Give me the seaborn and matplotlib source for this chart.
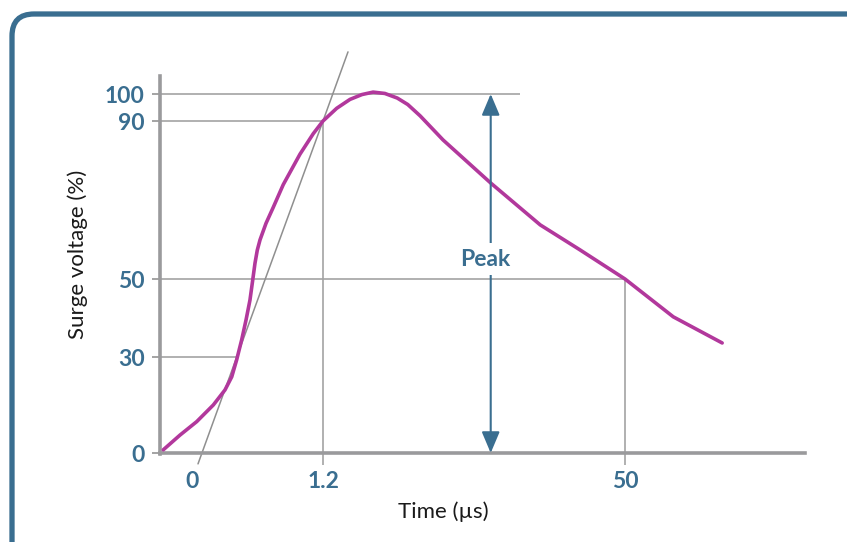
import numpy as np
import pandas as pd
import matplotlib
matplotlib.use("Agg")
import matplotlib.pyplot as plt
import seaborn as sns
from matplotlib.patches import FancyBboxPatch
from matplotlib.transforms import IdentityTransform

# ---------------- data ----------------
time_us = [-0.263, -0.110, 0.043, 0.195, 0.302, 0.364, 0.409, 0.455, 0.495, 0.531,
           0.556, 0.577, 0.598, 0.623, 0.678, 0.742, 0.836, 0.989, 1.111, 1.2,
           3.41, 5.56, 7.5, 9.3, 11.2, 13.2, 14.9, 16.9, 20.6, 28.3, 36.3, 42.7,
           50.0, 57.8, 65.7]
voltage_pct = [1.0, 5.6, 9.8, 15.0, 19.7, 23.8, 29.1, 34.4, 39.5, 44.6,
               49.7, 54.0, 57.3, 59.9, 64.1, 68.0, 73.9, 81.6, 86.8, 90,
               94.7, 98.0, 99.8, 100.7, 100.2, 98.5, 96.1, 91.9, 85.2, 74.3, 63.7, 57.4,
               50, 40.3, 33.6]

front_t = [0.055, 0.41, 1.2, 5.24]        # virtual front line through 30 % and 90 % points
front_v = [-3.4, 30, 90, 115.6]

ref_levels = [30, 50, 90, 100]            # horizontal guide lines
ref_ends = [0.41, 50.0, 1.2, 33.0]
vert_t = [1.2, 50.0]                      # vertical guide lines
vert_top = [90, 50]

peak_t = 28.3
peak_label_t, peak_label_v = 27.4, 55

x_ticks = [0, 1.2, 50]
x_tick_labels = ["0", "1.2", "50"]
y_ticks = [0, 30, 50, 90, 100]
y_tick_labels = ["0", "30", "50", "90", "100"]

# ---------------- style ----------------
sns.set_style("white")
plt.rcParams["font.family"] = ["Lato", "DejaVu Sans"]

BLUE = "#3a6e90"
GRAY = "#a3a3a3"
AXGRAY = "#9a9a9c"
MAGENTA = "#b2389c"

W, H = 847, 542
fig = plt.figure(figsize=(W / 100, H / 100), dpi=100)

# schematic (non-uniform) scales, pixel-based knots
xk_t = [-5, 0, 1.2, 50, 200]
xk_p = [192 - 5 * 109.17, 192, 323, 625, 625 + 150 * 6.189]
yk_v = [-40, 0, 30, 50, 90, 100, 160]
yk_p = [89 - 128, 89, 185, 263, 421, 448, 448 + 162]

fx = lambda v: np.interp(v, xk_t, xk_p)
ix = lambda p: np.interp(p, xk_p, xk_t)
fy = lambda v: np.interp(v, yk_v, yk_p)
iy = lambda p: np.interp(p, yk_p, yk_v)

ax_left, ax_right = 160, 805
ax_bot, ax_top = 60, 500
ax = fig.add_axes([ax_left / W, ax_bot / H, (ax_right - ax_left) / W, (ax_top - ax_bot) / H])
ax.set_xscale("function", functions=(fx, ix))
ax.set_yscale("function", functions=(fy, iy))
ax.set_xlim(float(ix(ax_left)), float(ix(ax_right)))
ax.set_ylim(float(iy(ax_bot)), float(iy(ax_top)))

# guide lines
for lvl, end in zip(ref_levels, ref_ends):
    ax.plot([ax.get_xlim()[0], end], [lvl, lvl], color=GRAY, lw=1.2, zorder=1,
            solid_capstyle="butt")
for t, top in zip(vert_t, vert_top):
    ax.plot([t, t], [top, -3.6], color=GRAY, lw=1.2, zorder=1, clip_on=False,
            solid_capstyle="butt")
ax.plot(front_t, front_v, color="#8f8f8f", lw=1.1, zorder=2, clip_on=False)

# surge curve
df = pd.DataFrame({"t": time_us, "v": voltage_pct})
sns.lineplot(data=df, x="t", y="v", ax=ax, color=MAGENTA, lw=2.6, sort=False,
             estimator=None, zorder=4)
ax.lines[-1].set_solid_joinstyle("round")
ax.lines[-1].set_solid_capstyle("round")

# peak arrow
ax.annotate("", xy=(peak_t, 100), xytext=(peak_t, 0),
            arrowprops=dict(arrowstyle="<|-|>,head_length=1.3,head_width=0.55",
                            color=BLUE, lw=1.5, shrinkA=0, shrinkB=0), zorder=5)
ax.text(peak_label_t, peak_label_v, "Peak", color=BLUE, fontsize=16.5, fontweight="bold",
        ha="center", va="center", zorder=6,
        bbox=dict(facecolor="white", edgecolor="none", pad=4))

# axes / spines
sns.despine(ax=ax, top=True, right=True)
ax.spines["bottom"].set_position(("data", 0))
for s in ("left", "bottom"):
    ax.spines[s].set_color(AXGRAY)
    ax.spines[s].set_linewidth(2.6)
ax.spines["left"].set_bounds(-0.4, 106.7)

ax.set_xticks(x_ticks)
ax.set_xticklabels(x_tick_labels)
ax.set_yticks(y_ticks)
ax.set_yticklabels(y_tick_labels)
ax.tick_params(axis="x", length=0, pad=13, labelsize=16.5, labelcolor=BLUE)
ax.tick_params(axis="y", length=6, width=1.4, color=GRAY, pad=5, labelsize=16.5,
               labelcolor=BLUE, left=True)
for lab in ax.get_xticklabels() + ax.get_yticklabels():
    lab.set_fontweight("bold")

ax.set_xlabel("")
ax.set_ylabel("")
fig.text(443 / W, 1 - 512 / H, "Time (µs)", ha="center", va="center", fontsize=16,
         color="#1a1a1a")
fig.text(78 / W, 1 - 254 / H, "Surge voltage (%)", ha="center", va="center",
         rotation=90, fontsize=16, color="#1a1a1a")

# rounded frame, cut by the figure edges
frame = FancyBboxPatch((12, -30), W + 40, H + 30 - 14,
                       boxstyle="round,pad=0,rounding_size=22",
                       transform=IdentityTransform(), facecolor="none",
                       edgecolor=BLUE, linewidth=3.8, clip_on=False)
fig.add_artist(frame)

fig.savefig("out.png", dpi=100)
